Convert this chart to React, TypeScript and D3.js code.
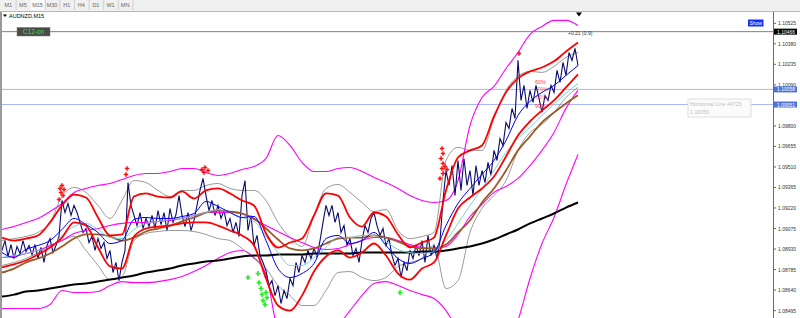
import React from "react";
import * as d3 from "d3";

const timeframes = ["M1", "M5", "M15", "M30", "H1", "H4", "D1", "W1", "MN"];
const axisTicks = [1.10525, 1.1038, 1.10235, 1.1009, 1.098, 1.09655, 1.0951, 1.09365, 1.0922, 1.09075, 1.0893, 1.08785, 1.0864, 1.08495];
const levelBlack = 1.10466;
const levelBlue = [1.10058, 1.09951];
const lastBar = 576;
const sampleStep = 12;
const priceStep = 3;

const priceClose = [
  1.0892, 1.0899, 1.08877, 1.08962, 1.08863, 1.08948, 1.08898, 1.0899, 1.08912, 1.08955,
  1.08891, 1.08962, 1.08863, 1.08941, 1.08835, 1.08955, 1.09004, 1.08905, 1.08955, 1.09019,
  1.09273, 1.09188, 1.09252, 1.09167, 1.09238, 1.09188, 1.09118, 1.09047, 1.09075, 1.08976,
  1.09019, 1.0892, 1.09004, 1.08934, 1.08976, 1.08863, 1.0892, 1.08764, 1.08835, 1.08707,
  1.08835, 1.0892, 1.094, 1.09238, 1.09167, 1.09096, 1.09188, 1.09075, 1.09146, 1.09089,
  1.09167, 1.09075, 1.09202, 1.09103, 1.09188, 1.09061, 1.09216, 1.09118, 1.09174, 1.09308,
  1.09167, 1.09089, 1.09188, 1.09061, 1.09132, 1.09238, 1.09344, 1.09429, 1.09308, 1.09202,
  1.09273, 1.09167, 1.09238, 1.09146, 1.09202, 1.09096, 1.09146, 1.09047, 1.09118, 1.09019,
  1.09308, 1.09414, 1.09061, 1.09167, 1.08955, 1.09026, 1.08884, 1.08835, 1.08778, 1.08672,
  1.08707, 1.08601, 1.08672, 1.08545, 1.08637, 1.0858, 1.08722, 1.08672, 1.08835, 1.08764,
  1.08884, 1.08835, 1.0892, 1.08863, 1.08934, 1.08877, 1.0899, 1.09118, 1.09238, 1.09167,
  1.09238, 1.09118, 1.09188, 1.09047, 1.09096, 1.08955, 1.09004, 1.08884, 1.08934, 1.08835,
  1.0899, 1.09096, 1.09047, 1.09146, 1.09188, 1.09096, 1.09026, 1.09075, 1.08955, 1.09004,
  1.08884, 1.08814, 1.08863, 1.08729, 1.08835, 1.08778, 1.0892, 1.08863, 1.08955, 1.08884,
  1.0899, 1.08835, 1.09026, 1.08884, 1.08955, 1.08863, 1.0899, 1.09273, 1.09485, 1.09379,
  1.0952, 1.09308, 1.09556, 1.09344, 1.0957, 1.09379, 1.09485, 1.09308, 1.0952, 1.09379,
  1.09485, 1.094, 1.09542, 1.0945, 1.09627, 1.09556, 1.09711, 1.09662, 1.09824, 1.09782,
  1.09923, 1.09853, 1.10263, 1.0998, 1.10086, 1.09923, 1.10051, 1.09966, 1.10086, 1.09994,
  1.09895, 1.10015, 1.0998, 1.10086, 1.10037, 1.10192, 1.10107, 1.10249, 1.10157, 1.10319,
  1.10263, 1.10348, 1.10227,
];

const maSlowBlack = [
  1.08594, 1.08608, 1.0863, 1.08637, 1.08651, 1.08665, 1.08679, 1.08686, 1.087, 1.08714,
  1.08728, 1.08743, 1.08764, 1.08778, 1.08792, 1.08814, 1.08828, 1.08842, 1.08849, 1.08863,
  1.08877, 1.08884, 1.08884, 1.08891, 1.08891, 1.08891, 1.08898, 1.08898, 1.08898, 1.08898,
  1.08905, 1.08905, 1.08905, 1.08905, 1.08905, 1.08913, 1.08913, 1.0892, 1.08934, 1.08948,
  1.08969, 1.08997, 1.09033, 1.09068, 1.09111, 1.09146, 1.09181, 1.09223, 1.09259,
];

const maBrown = [
  1.08764, 1.08792, 1.08835, 1.08863, 1.08898, 1.08948, 1.09004, 1.09033, 1.09033, 1.09019,
  1.0899, 1.09011, 1.09054, 1.09075, 1.09096, 1.09125, 1.09153, 1.09188, 1.09202, 1.09195,
  1.09181, 1.09146, 1.09075, 1.08997, 1.08934, 1.0892, 1.08934, 1.08969, 1.09004, 1.09011,
  1.09011, 1.09026, 1.09011, 1.08983, 1.08948, 1.08934, 1.08934, 1.08962, 1.09047, 1.09132,
  1.09259, 1.09358, 1.09485, 1.09627, 1.09726, 1.09825, 1.09895, 1.09959, 1.10016,
];

const maBlue = [
  1.08905, 1.0887, 1.08927, 1.08955, 1.0899, 1.09068, 1.09146, 1.09103, 1.09047, 1.08969,
  1.0899, 1.09139, 1.09153, 1.09146, 1.09146, 1.0916, 1.09181, 1.09266, 1.09231, 1.09188,
  1.09153, 1.0916, 1.0899, 1.08792, 1.08729, 1.08757, 1.08828, 1.09004, 1.09026, 1.08969,
  1.0899, 1.09047, 1.08955, 1.08863, 1.08828, 1.08863, 1.08905, 1.09096, 1.09252, 1.09358,
  1.09457, 1.09556, 1.09697, 1.09874, 1.09973, 1.10037, 1.10086, 1.10157, 1.10227,
];

const maCyan = [
  1.0887, 1.08884, 1.08898, 1.0892, 1.08941, 1.09026, 1.09089, 1.09111, 1.09068, 1.09011,
  1.09004, 1.09068, 1.09111, 1.09125, 1.09139, 1.09146, 1.09167, 1.09188, 1.09209, 1.09188,
  1.09153, 1.09125, 1.09019, 1.08905, 1.08814, 1.08814, 1.0887, 1.08941, 1.09011, 1.09011,
  1.09026, 1.09026, 1.08983, 1.08927, 1.08905, 1.08898, 1.08912, 1.0899, 1.09111, 1.09238,
  1.09358, 1.09485, 1.09612, 1.09711, 1.09789, 1.09874, 1.09952, 1.1003, 1.101,
];

const bandRedUpper = [
  1.09011, 1.0899, 1.09004, 1.09026, 1.09118, 1.09238, 1.09315, 1.09294, 1.09153, 1.09026,
  1.09033, 1.09301, 1.09323, 1.09301, 1.09294, 1.09337, 1.09287, 1.09344, 1.09358, 1.09323,
  1.09273, 1.09238, 1.0904, 1.08941, 1.08976, 1.09004, 1.09167, 1.09323, 1.09308, 1.09153,
  1.09089, 1.09188, 1.0916, 1.09033, 1.08941, 1.08976, 1.09011, 1.09344, 1.09577, 1.09627,
  1.09662, 1.09867, 1.10037, 1.10136, 1.10185, 1.10213, 1.10256, 1.10326, 1.1039,
];

const bandRedLower = [
  1.088, 1.08821, 1.08849, 1.08891, 1.08941, 1.09011, 1.09118, 1.09096, 1.08941, 1.08807,
  1.08792, 1.09019, 1.09075, 1.09089, 1.09096, 1.09111, 1.09118, 1.09118, 1.09096, 1.09061,
  1.09026, 1.08955, 1.08722, 1.08531, 1.08495, 1.08601, 1.08771, 1.08877, 1.0892, 1.0887,
  1.08905, 1.08969, 1.08884, 1.08757, 1.08714, 1.08792, 1.08835, 1.09026, 1.09216, 1.09294,
  1.09358, 1.09443, 1.09584, 1.09733, 1.09832, 1.09909, 1.0998, 1.10072, 1.10164,
];

const envUpper = [
  1.09068, 1.09089, 1.09118, 1.09146, 1.09195, 1.09252, 1.0933, 1.09358, 1.09379, 1.09393,
  1.09421, 1.0945, 1.09464, 1.09464, 1.09478, 1.09499, 1.09499, 1.09471, 1.0945, 1.09464,
  1.09492, 1.09513, 1.0957, 1.09732, 1.09662, 1.09542, 1.09478, 1.09478, 1.09499, 1.09506,
  1.09478, 1.09436, 1.094, 1.09358, 1.09308, 1.09273, 1.09259, 1.09273, 1.09414, 1.09803,
  1.10001, 1.10079, 1.10206, 1.10319, 1.10447, 1.10503, 1.10546, 1.10546, 1.1051,
];

const envLower = [
  1.0851, 1.0851, 1.0851, 1.0851, 1.08538, 1.08637, 1.08623, 1.08623, 1.0863, 1.08672,
  1.087, 1.08693, 1.08693, 1.087, 1.08714, 1.08736, 1.08771, 1.08814, 1.08863, 1.08905,
  1.0892, 1.0887, 1.0875, 1.08354, 1.08248, 1.08248, 1.08283, 1.08319, 1.08389, 1.08495,
  1.08601, 1.08686, 1.087, 1.08672, 1.08637, 1.08608, 1.0858, 1.08495, 1.08354, 1.08213,
  1.08142, 1.08142, 1.08213, 1.08425, 1.08722, 1.08969, 1.09153, 1.09386, 1.09598,
];

const envMiddle = [
  1.0887, 1.08877, 1.08898, 1.0892, 1.08955, 1.0899, 1.0904, 1.09061, 1.09075, 1.09096,
  1.09111, 1.09118, 1.09118, 1.09125, 1.09132, 1.09146, 1.09167, 1.09188, 1.09188, 1.09188,
  1.09181, 1.09139, 1.09096, 1.09054, 1.09011, 1.08976, 1.08941, 1.08927, 1.08934, 1.08962,
  1.0899, 1.09011, 1.09011, 1.0899, 1.08962, 1.08941, 1.08934, 1.08948, 1.09033, 1.0916,
  1.09245, 1.0933, 1.09372, 1.09429, 1.0952, 1.09627, 1.09754, 1.09924, 1.10051,
];

const bandGrayUpper = [
  1.0899, 1.09004, 1.09019, 1.09047, 1.09118, 1.09301, 1.09365, 1.0933, 1.09238, 1.09146,
  1.09273, 1.09414, 1.094, 1.09344, 1.09301, 1.09344, 1.09344, 1.09379, 1.09393, 1.09358,
  1.09344, 1.09344, 1.09273, 1.09118, 1.09011, 1.08948, 1.09167, 1.09358, 1.09386, 1.0933,
  1.09259, 1.09195, 1.09209, 1.09061, 1.09004, 1.09019, 1.09047, 1.09556, 1.09648, 1.09627,
  1.09627, 1.09853, 1.10051, 1.1015, 1.10185, 1.10178, 1.1022, 1.10284, 1.10319,
];

const bandGrayLower = [
  1.08814, 1.08835, 1.08863, 1.08905, 1.08955, 1.0899, 1.09019, 1.0892, 1.08814, 1.08714,
  1.08736, 1.0899, 1.0904, 1.09054, 1.09061, 1.09061, 1.09054, 1.09033, 1.09004, 1.0899,
  1.08934, 1.08863, 1.08792, 1.08672, 1.08601, 1.08531, 1.08531, 1.08637, 1.08764, 1.08771,
  1.08729, 1.08707, 1.08729, 1.08807, 1.08835, 1.08863, 1.08955, 1.08651, 1.08707, 1.09047,
  1.09216, 1.09308, 1.09414, 1.09627, 1.09754, 1.0981, 1.09895, 1.10001, 1.10072,
];

const sellSignalBars = [58, 60, 62, 59, 61, 57, 125, 124, 200, 203, 206, 202, 440, 441, 439, 441, 443, 440, 445, 441, 438, 517];
const sellSignalPrices = [1.09358, 1.09379, 1.09351, 1.0933, 1.09308, 1.0928, 1.09499, 1.09457, 1.09492, 1.09506, 1.09485, 1.09471, 1.09641, 1.09605, 1.0957, 1.09535, 1.09513, 1.09499, 1.09492, 1.09464, 1.09429, 1.10312];
const buySignalBars = [246, 256, 257, 259, 260, 264, 261, 263, 265, 398];
const buySignalPrices = [1.08729, 1.08757, 1.08693, 1.08651, 1.08609, 1.08623, 1.08566, 1.08538, 1.08587, 1.08623];

const fibLabels = ["60%", "70%", "85%", "90%"];
const fibBars = [533, 535, 534, 533];
const fibPrices = [1.10093, 1.10047, 1.09987, 1.09927];

const FONT = "'Liberation Sans', Arial, sans-serif";

export default function App() {
  const x = d3.scaleLinear().domain([0, lastBar]).range([2, 578]);
  const y = d3.scaleLinear().domain([1.08495, 1.10525]).range([310.6, 23.3]);

  const smooth = (vals: number[]) =>
    d3
      .line<number>()
      .x((_, i) => x(i * sampleStep))
      .y((v) => y(v))
      .curve(d3.curveMonotoneX)(vals) || "";

  const pricePath =
    d3
      .line<number>()
      .x((_, i) => x(i * priceStep))
      .y((v) => y(v))(priceClose) || "";

  const cross = d3.symbol().type(d3.symbolCross).size(11)() || "";
  const crossG = d3.symbol().type(d3.symbolCross).size(13)() || "";

  const fmt = (v: number) => v.toFixed(5);

  const tabW = 14.6;

  return (
    <svg
      width={800}
      height={318}
      style={{ position: "absolute", left: 0, top: 0, display: "block", background: "#fff" }}
      fontFamily={FONT}
    >
      <defs>
        <clipPath id="plot">
          <rect x={2} y={12} width={771} height={306} />
        </clipPath>
      </defs>

      {/* toolbar */}
      <rect x={0} y={0} width={800} height={11} fill="#f0f0f0" />
      <line x1={0} x2={800} y1={11.5} y2={11.5} stroke="#b8b8b8" />
      {timeframes.map((t, i) => (
        <g key={t}>
          {t === "M15" && <rect x={1 + i * tabW} y={0} width={tabW} height={10} fill="#fafafa" />}
          <text x={1 + i * tabW + tabW / 2} y={7.3} fontSize={5.5} fill="#666" textAnchor="middle">
            {t}
          </text>
          <line x1={1 + (i + 1) * tabW + 0.5} x2={1 + (i + 1) * tabW + 0.5} y1={0} y2={10} stroke="#d0d0d0" />
        </g>
      ))}

      {/* frame */}
      <rect x={0} y={12} width={2} height={306} fill="#9a9a9a" />

      <g clipPath="url(#plot)">
        {/* level lines */}
        <line x1={2} x2={773} y1={y(levelBlack)} y2={y(levelBlack)} stroke="#808080" strokeWidth={1} />
        {levelBlue.map((v) => (
          <line key={v} x1={2} x2={773} y1={y(v)} y2={y(v)} stroke="#a9b7f2" strokeWidth={1} />
        ))}

        {/* indicators */}
        <path d={smooth(envUpper)} fill="none" stroke="#ff00ff" strokeWidth={1.1} />
        <path d={smooth(envLower)} fill="none" stroke="#ff00ff" strokeWidth={1.1} />
        <path d={smooth(bandGrayUpper)} fill="none" stroke="#808080" strokeWidth={0.8} />
        <path d={smooth(bandGrayLower)} fill="none" stroke="#808080" strokeWidth={0.8} />
        <path d={smooth(maSlowBlack)} fill="none" stroke="#000" strokeWidth={2} />
        <path d={pricePath} fill="none" stroke="#0b0b6e" strokeWidth={1.1} />
        <path d={smooth(envMiddle)} fill="none" stroke="#ff00ff" strokeWidth={1.1} />
        <path d={smooth(maBrown)} fill="none" stroke="#9c5a28" strokeWidth={1.8} />
        <path d={smooth(maCyan)} fill="none" stroke="#70cccc" strokeWidth={0.9} />
        <path d={smooth(maBlue)} fill="none" stroke="#0000ff" strokeWidth={1} />
        <path d={smooth(bandRedUpper)} fill="none" stroke="#ff0000" strokeWidth={1.8} />
        <path d={smooth(bandRedLower)} fill="none" stroke="#ff0000" strokeWidth={1.8} />

        {sellSignalBars.map((b, i) => (
          <path key={"s" + i} d={cross} transform={`translate(${x(b)},${y(sellSignalPrices[i])})`} fill="#ff1010" />
        ))}
        {buySignalBars.map((b, i) => (
          <path key={"b" + i} d={crossG} transform={`translate(${x(b)},${y(buySignalPrices[i])})`} fill="#22ee22" />
        ))}

        {fibLabels.map((l, i) => (
          <text key={l} x={x(fibBars[i])} y={y(fibPrices[i])} fontSize={5.5} fill="#ff2020" fillOpacity={i % 3 === 0 ? 0.9 : 0.65}>
            {l}
          </text>
        ))}
      </g>

      {/* top-right marker and texts */}
      <path d="M576,12.5 L582,12.5 L579,16.5 Z" fill="#000" />
      <text x={568} y={35} fontSize={5} fill="#333">
        +0.21 (0.9)
      </text>

      {/* title */}
      <path d="M3,14.5 L7,14.5 L5,17 Z" fill="#000" />
      <text x={9} y={17.5} fontSize={5.5} fill="#000">
        AUDNZD,M15
      </text>

      {/* C12-on box */}
      <rect x={17} y={27.5} width={33} height={8.5} fill="#4a4a4a" stroke="#777" strokeWidth={0.5} />
      <text x={33.5} y={34.3} fontSize={6.5} fill="#2fe02f" textAnchor="middle">
        C12-on
      </text>

      {/* Show button */}
      <rect x={748} y={19.5} width={15.5} height={7} fill="#1030ff" />
      <text x={755.7} y={25.2} fontSize={5} fill="#fff" textAnchor="middle">
        Show
      </text>

      {/* tooltip */}
      <rect x={688} y={99} width={63} height={18} fill="#fbfbfb" stroke="#d8d8d8" strokeWidth={0.8} />
      <text x={690} y={106} fontSize={5.3} fill="#bdbdbd">
        Horizontal Line 44723
      </text>
      <text x={690} y={114} fontSize={5.3} fill="#bdbdbd">
        1.10050
      </text>

      {/* right axis */}
      <line x1={773.5} x2={773.5} y1={12} y2={318} stroke="#6a6a6a" />
      {axisTicks.map((v) => (
        <g key={v}>
          <line x1={773.5} x2={776} y1={y(v)} y2={y(v)} stroke="#6a6a6a" />
          <text x={778} y={y(v) + 2} fontSize={5.6} fill="#333" textLength={18} lengthAdjust="spacingAndGlyphs">
            {fmt(v)}
          </text>
        </g>
      ))}
      <rect x={774} y={y(levelBlack) - 3} width={23} height={6} fill="#000" />
      <text x={777} y={y(levelBlack) + 2} fontSize={5.6} fill="#fff" textLength={18} lengthAdjust="spacingAndGlyphs">
        {fmt(levelBlack)}
      </text>
      {levelBlue.map((v) => (
        <g key={"lb" + v}>
          <rect x={774} y={y(v) - 3} width={23} height={6} fill="#4f72d9" />
          <text x={777} y={y(v) + 2} fontSize={5.6} fill="#fff" textLength={18} lengthAdjust="spacingAndGlyphs">
            {fmt(v)}
          </text>
        </g>
      ))}
    </svg>
  );
}
